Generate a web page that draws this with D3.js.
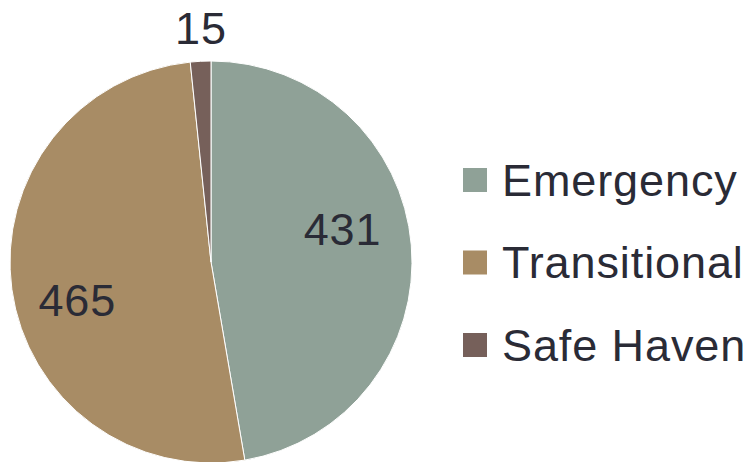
<!DOCTYPE html>
<html>
<head>
<meta charset="utf-8">
<script src="https://cdn.jsdelivr.net/npm/d3@7"></script>
<style>
  body { margin: 0; background: #fff; }
  text { font-family: "Liberation Sans", Arial, sans-serif; fill: #2a2b36; }
</style>
</head>
<body>
<div class="chart"></div>
<script>
var width = 752, height = 462

// data
var categories = ['Emergency', 'Transitional', 'Safe Haven']
var values = [431, 465, 15]
var colors = ['#8fa197', '#a88c65', '#76605a']

function drawChart() {
    var radius = 201
    var cx = 211, cy = 262

    const svg = d3.select('.chart')
        .append('svg')
        .attr('width', width)
        .attr('height', height)

    const g = svg.append('g')
        .attr('transform', 'translate(' + cx + ',' + cy + ')')

    var color = d3.scaleOrdinal()
        .domain(categories)
        .range(colors)

    var pie = d3.pie()
        .sort(null)
        .value(function(d) { return d.value })
        (categories.map(function(c, i) { return { name: c, value: values[i] } }))

    var arc = d3.arc()
        .innerRadius(0)
        .outerRadius(radius)

    g.selectAll('slice')
        .data(pie)
        .enter()
        .append('path')
        .attr('d', arc)
        .attr('fill', function(d) { return color(d.data.name) })
        .attr('stroke', 'white')
        .style('stroke-width', '1px')

    // labels inside for big slices, outside for small ones
    var inner = d3.arc().innerRadius(135).outerRadius(135)
    var outer = d3.arc().innerRadius(234).outerRadius(234)

    g.selectAll('label')
        .data(pie)
        .enter()
        .append('text')
        .text(function(d) { return d.data.value })
        .attr('transform', function(d) {
            var big = (d.endAngle - d.startAngle) > 0.3
            var p = big ? inner.centroid(d) : outer.centroid(d)
            // small nudges to match the original placement
            if (big) {
                if (p[0] > 0) { p[0] -= 3; p[1] -= 21 }
                else { p[1] += 20 }
            }
            else p[0] += 2
            return 'translate(' + p + ')'
        })
        .attr('dy', '0.35em')
        .style('text-anchor', 'middle')
        .style('font-size', '45px')
        .style('letter-spacing', '0.8px')

    // legend
    const legend = svg.append('g')
        .attr('transform', 'translate(463,0)')

    var rowY = d3.scalePoint()
        .domain(categories)
        .range([180, 345])

    legend.selectAll('swatch')
        .data(categories)
        .enter()
        .append('rect')
        .attr('x', 0)
        .attr('y', function(d) { return rowY(d) - 12 })
        .attr('width', 24)
        .attr('height', 24)
        .attr('fill', function(d) { return color(d) })

    legend.selectAll('legendText')
        .data(categories)
        .enter()
        .append('text')
        .attr('x', 39)
        .attr('y', function(d) { return rowY(d) })
        .attr('dy', '0.35em')
        .text(function(d) { return d })
        .style('font-size', '45px')
        .style('letter-spacing', '0.9px')
}

drawChart()
</script>
</body>
</html>
